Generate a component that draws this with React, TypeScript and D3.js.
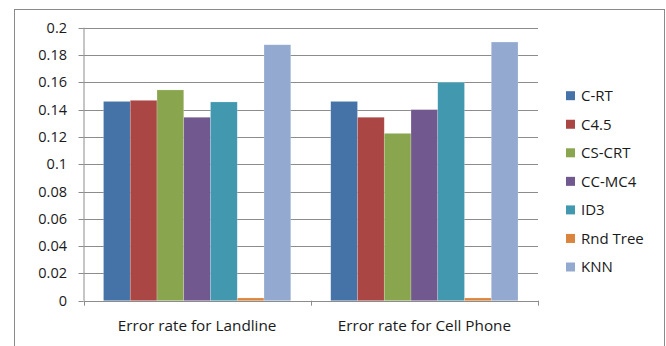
import React from "react";
import * as d3 from "d3";

const categories = ["Error rate for Landline", "Error rate for Cell Phone"];
const seriesNames = ["C-RT", "C4.5", "CS-CRT", "CC-MC4", "ID3", "Rnd Tree", "KNN"];
const landline = [0.146, 0.1468, 0.1544, 0.1344, 0.1456, 0.002, 0.1875];
const cellPhone = [0.146, 0.1344, 0.1226, 0.14, 0.16, 0.002, 0.1895];
const colors = ["#4572A7", "#AA4643", "#89A54E", "#71588F", "#4198AF", "#DB843D", "#93A9CF"];
const yTicks = [0, 0.02, 0.04, 0.06, 0.08, 0.1, 0.12, 0.14, 0.16, 0.18, 0.2];
const tickLabels = ["0", "0.02", "0.04", "0.06", "0.08", "0.1", "0.12", "0.14", "0.16", "0.18", "0.2"];

const W = 666, H = 346;
const plot = { left: 83.5, right: 538, top: 27.7, bottom: 300.7 };
const font = "'Open Sans', 'Liberation Sans', sans-serif";

export default function App() {
  const data = [landline, cellPhone];
  const x0 = d3.scaleBand<string>().domain(categories).range([plot.left, plot.right]).paddingInner(0).paddingOuter(0);
  const bw = x0.bandwidth();
  const gap = bw * (40 / 227.4);
  const x1 = d3.scaleBand<string>().domain(seriesNames).range([gap / 2, bw - gap / 2]).padding(0);
  const y = d3.scaleLinear().domain([0, 0.2]).range([plot.bottom, plot.top]);

  return (
    <svg width={W} height={H} style={{ position: "absolute", left: 0, top: 0, background: "#fff" }}>
      <rect x={14.5} y={9.5} width={650} height={350} fill="#fff" stroke="#8a8a8a" strokeWidth={1} />
      {yTicks.map((t, i) => (
        <g key={i}>
          {t > 0 && (
            <line x1={plot.left} x2={plot.right} y1={Math.round(y(t)) + 0.5} y2={Math.round(y(t)) + 0.5} stroke="#8c8c8c" strokeWidth={1} />
          )}
          <line x1={plot.left - 5} x2={plot.left} y1={Math.round(y(t)) + 0.5} y2={Math.round(y(t)) + 0.5} stroke="#8c8c8c" strokeWidth={1} />
          <text x={67} y={y(t)} dy="0.35em" textAnchor="end" fontFamily={font} fontSize={14.5} fill="#1a1a1a">
            {tickLabels[i]}
          </text>
        </g>
      ))}
      {categories.map((c, ci) => (
        <g key={c}>
          {data[ci].map((v, si) => (
            <rect
              key={si}
              x={(x0(c) as number) + (x1(seriesNames[si]) as number)}
              y={y(v)}
              width={x1.bandwidth()}
              height={plot.bottom - y(v)}
              fill={colors[si]}
              stroke="rgba(255,255,255,0.35)"
              strokeWidth={0.6}
            />
          ))}
          <text x={(x0(c) as number) + bw / 2} y={331} textAnchor="middle" fontFamily={font} fontSize={15.3} fill="#1a1a1a">
            {c}
          </text>
        </g>
      ))}
      <line x1={plot.left + 0.5} x2={plot.left + 0.5} y1={plot.top} y2={plot.bottom} stroke="#8c8c8c" strokeWidth={1} />
      <line x1={plot.left} x2={plot.right} y1={Math.round(plot.bottom) + 0.5} y2={Math.round(plot.bottom) + 0.5} stroke="#8c8c8c" strokeWidth={1} />
      {[plot.left, plot.left + bw, plot.right].map((tx, i) => (
        <line key={i} x1={Math.round(tx) + 0.5} x2={Math.round(tx) + 0.5} y1={plot.bottom} y2={plot.bottom + 5} stroke="#8c8c8c" strokeWidth={1} />
      ))}
      {seriesNames.map((s, i) => (
        <g key={s} transform={`translate(566, ${95.7 + i * 28.55})`}>
          <rect x={0} y={-4.5} width={9} height={9} fill={colors[i]} />
          <text x={15} y={0} dy="0.35em" fontFamily={font} fontSize={15} fill="#1a1a1a">
            {s}
          </text>
        </g>
      ))}
    </svg>
  );
}
